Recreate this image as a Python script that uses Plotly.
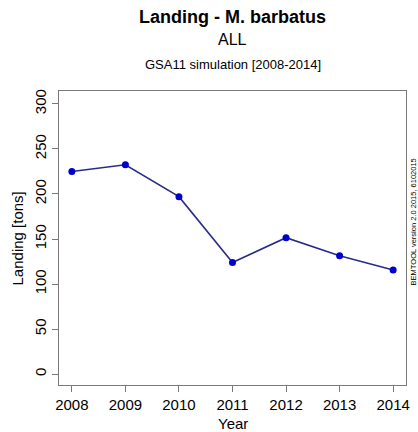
import plotly.graph_objects as go

# Landing series (tons) by year
years = [2008, 2009, 2010, 2011, 2012, 2013, 2014]
landing = [225.0, 232.5, 197.0, 124.0, 151.5, 131.5, 115.5]
y_ticks = [0, 50, 100, 150, 200, 250, 300]

W, H = 418, 432
L, R, T, B = 59, 8, 91, 47
plot_h = H - T - B

# R-style axis limits: 4% padding around the data range
ymax = max(landing) * 1.3
ypad = 0.04 * ymax
xpad = 0.04 * (years[-1] - years[0])

FONT = "Liberation Sans, Arial, sans-serif"
AXIS_COL = "#7a7a7a"

fig = go.Figure()
fig.add_trace(go.Scatter(
    x=years, y=landing, mode="lines",
    line=dict(color="#2a2a8a", width=1.6),
    hoverinfo="skip", showlegend=False,
))
fig.add_trace(go.Scatter(
    x=years, y=landing, mode="markers",
    marker=dict(color="#0000cd", size=7),
    showlegend=False,
))


def py(px_from_top):
    """Paper y coordinate for a pixel row measured from the top of the page."""
    return 1 + (T - px_from_top) / plot_h


annots = [
    dict(text="<b>Landing - M. barbatus</b>", y=py(17), size=18),
    dict(text="ALL", y=py(39), size=16),
    dict(text="GSA11 simulation [2008-2014]", y=py(64), size=13),
]
for a in annots:
    fig.add_annotation(
        text=a["text"], xref="paper", yref="paper", x=0.5, y=a["y"],
        xanchor="center", yanchor="middle", showarrow=False,
        font=dict(family=FONT, size=a["size"], color="#000"),
    )

# Axis titles
fig.add_annotation(
    text="Year", xref="paper", yref="paper", x=0.5, y=py(423),
    xanchor="center", yanchor="middle", showarrow=False,
    font=dict(family=FONT, size=15, color="#000"),
)
fig.add_annotation(
    text="Landing [tons]", xref="paper", yref="paper",
    x=(17 - L) / (W - L - R), y=0.5, textangle=-90,
    xanchor="center", yanchor="middle", showarrow=False,
    font=dict(family=FONT, size=15, color="#000"),
)

# Version stamp along the right page edge
fig.add_annotation(
    text="BEMTOOL version 2.0 2015, 6102015", xref="paper", yref="paper",
    x=(418.5 - L) / (W - L - R), y=py(222), textangle=-90,
    xanchor="center", yanchor="middle", showarrow=False,
    font=dict(family=FONT, size=7.5, color="#000"),
)

fig.update_layout(
    width=W, height=H,
    margin=dict(l=L, r=R, t=T, b=B),
    paper_bgcolor="white", plot_bgcolor="white",
    font=dict(family=FONT, size=15, color="#000"),
)
fig.update_xaxes(
    range=[years[0] - xpad, years[-1] + xpad],
    tickvals=years, ticktext=[str(y) for y in years],
    ticks="outside", ticklen=6, tickcolor=AXIS_COL, tickwidth=1,
    showline=True, linecolor=AXIS_COL, linewidth=1, mirror=True,
    showgrid=False, zeroline=False,
    tickfont=dict(family=FONT, size=15, color="#000"),
)
fig.update_yaxes(
    range=[0 - ypad, ymax + ypad],
    tickvals=y_ticks, ticktext=[str(v) for v in y_ticks],
    tickangle=-90,
    ticks="outside", ticklen=6, tickcolor=AXIS_COL, tickwidth=1,
    showline=True, linecolor=AXIS_COL, linewidth=1, mirror=True,
    showgrid=False, zeroline=False,
    tickfont=dict(family=FONT, size=15, color="#000"),
)

fig.write_html("out.html")
